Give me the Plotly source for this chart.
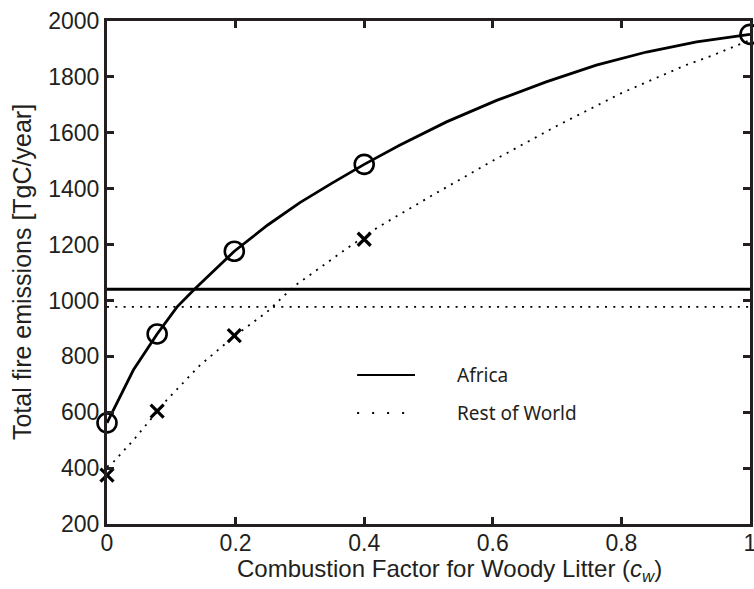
import plotly.graph_objects as go

# ---- data ----
africa_curve_x = [0.0, 0.041, 0.078, 0.109, 0.136, 0.198, 0.25, 0.3, 0.35, 0.4, 0.455, 0.528, 0.606, 0.683, 0.761, 0.839, 0.917, 1.0]
africa_curve_y = [562, 751, 880, 977, 1040, 1176, 1270, 1350, 1420, 1487, 1555, 1639, 1716, 1782, 1842, 1889, 1925, 1952]

row_curve_x = [0.0, 0.008, 0.041, 0.093, 0.145, 0.197, 0.249, 0.29, 0.373, 0.42, 0.502, 0.6, 0.7, 0.8, 0.9, 0.942, 1.0]
row_curve_y = [405, 417, 500, 644, 769, 870, 959, 1049, 1186, 1260, 1371, 1500, 1625, 1742, 1842, 1877, 1932]

africa_pts_x = [0.0, 0.078, 0.198, 0.4, 1.0]
africa_pts_y = [562, 880, 1176, 1487, 1952]

row_pts_x = [0.0, 0.078, 0.198, 0.4]
row_pts_y = [375, 604, 874, 1219]

ref_x = [0.0, 1.0]
africa_ref = 1040
row_ref = 977

x_ticks = [0, 0.2, 0.4, 0.6, 0.8, 1]
y_ticks = [200, 400, 600, 800, 1000, 1200, 1400, 1600, 1800, 2000]

legend_labels = ["Africa", "Rest of World"]
x_title = "Combustion Factor for Woody Litter (<i>c</i><sub><i>w</i></sub>)"
y_title = "Total fire emissions [TgC/year]"

# ---- figure ----
fig = go.Figure()

fig.add_trace(go.Scatter(x=ref_x, y=[africa_ref] * 2, mode="lines",
                         line=dict(color="black", width=3), showlegend=False))
fig.add_trace(go.Scatter(x=ref_x, y=[row_ref] * 2, mode="lines",
                         line=dict(color="black", width=1.8, dash="2px,6.3px"), showlegend=False))

fig.add_trace(go.Scatter(x=row_curve_x, y=row_curve_y, mode="lines",
                         line=dict(color="black", width=1.8, dash="2px,6px"), showlegend=False))
fig.add_trace(go.Scatter(x=africa_curve_x, y=africa_curve_y, mode="lines",
                         line=dict(color="black", width=2.8), showlegend=False))

fig.add_trace(go.Scatter(x=africa_pts_x, y=africa_pts_y, mode="markers", cliponaxis=False,
                         marker=dict(symbol="circle-open", size=19, color="black",
                                     line=dict(width=2.6, color="black")), showlegend=False))
fig.add_trace(go.Scatter(x=row_pts_x, y=row_pts_y, mode="markers", cliponaxis=False,
                         marker=dict(symbol="x-thin-open", size=13, color="black",
                                     line=dict(width=3.2, color="black")), showlegend=False))

# legend drawn manually (line samples + labels)
legend_font = dict(family="Noto Sans", size=19, color="#231f20")
fig.add_shape(type="line", xref="paper", yref="paper", x0=0.389, x1=0.479, y0=0.2962, y1=0.2962,
              line=dict(color="black", width=2))
fig.add_shape(type="line", xref="paper", yref="paper", x0=0.389, x1=0.479, y0=0.2207, y1=0.2207,
              line=dict(color="black", width=1.8, dash="2px,13px"))
fig.add_annotation(xref="paper", yref="paper", x=0.546, y=0.2962, text=legend_labels[0],
                   showarrow=False, xanchor="left", yanchor="middle", xshift=-3, font=legend_font)
fig.add_annotation(xref="paper", yref="paper", x=0.546, y=0.2207, text=legend_labels[1],
                   showarrow=False, xanchor="left", yanchor="middle", xshift=-3, font=legend_font)

fam = "Liberation Sans, Arial, sans-serif"
tick_font = dict(family=fam, size=23, color="#231f20")
title_font = dict(family=fam, size=24, color="#231f20")

# axis titles as annotations for exact placement
fig.add_annotation(xref="paper", yref="paper", x=0.5334, y=-0.0915, text=x_title,
                   showarrow=False, xanchor="center", yanchor="middle", font=title_font)
fig.add_annotation(xref="paper", yref="paper", x=-0.132, y=0.501, text=y_title, textangle=-90,
                   showarrow=False, xanchor="center", yanchor="middle",
                   font=dict(family=fam, size=25, color="#231f20"))

fig.update_layout(
    width=754, height=589,
    margin=dict(l=107, r=4, t=21, b=65),
    paper_bgcolor="white", plot_bgcolor="white",
    font=tick_font,
    showlegend=False,
    xaxis=dict(range=[0, 1], tickvals=x_ticks, ticktext=[str(v) for v in x_ticks],
               showline=True, linecolor="#231f20", linewidth=3, mirror="ticks",
               ticks="inside", ticklen=7, tickwidth=3, tickcolor="#231f20",
               showgrid=False, zeroline=False, tickfont=tick_font, automargin=False,
               ticklabeloverflow="allow", ticklabelstandoff=-4),
    yaxis=dict(range=[200, 2000], tickvals=y_ticks,
               showline=True, linecolor="#231f20", linewidth=3, mirror="ticks",
               ticks="inside", ticklen=7, tickwidth=3, tickcolor="#231f20",
               showgrid=False, zeroline=False, tickfont=tick_font, automargin=False,
               ticklabeloverflow="allow"),
)

fig.write_html("out.html", config={"displayModeBar": False},
               post_script="document.body.style.margin='0';document.body.style.overflow='hidden';")
